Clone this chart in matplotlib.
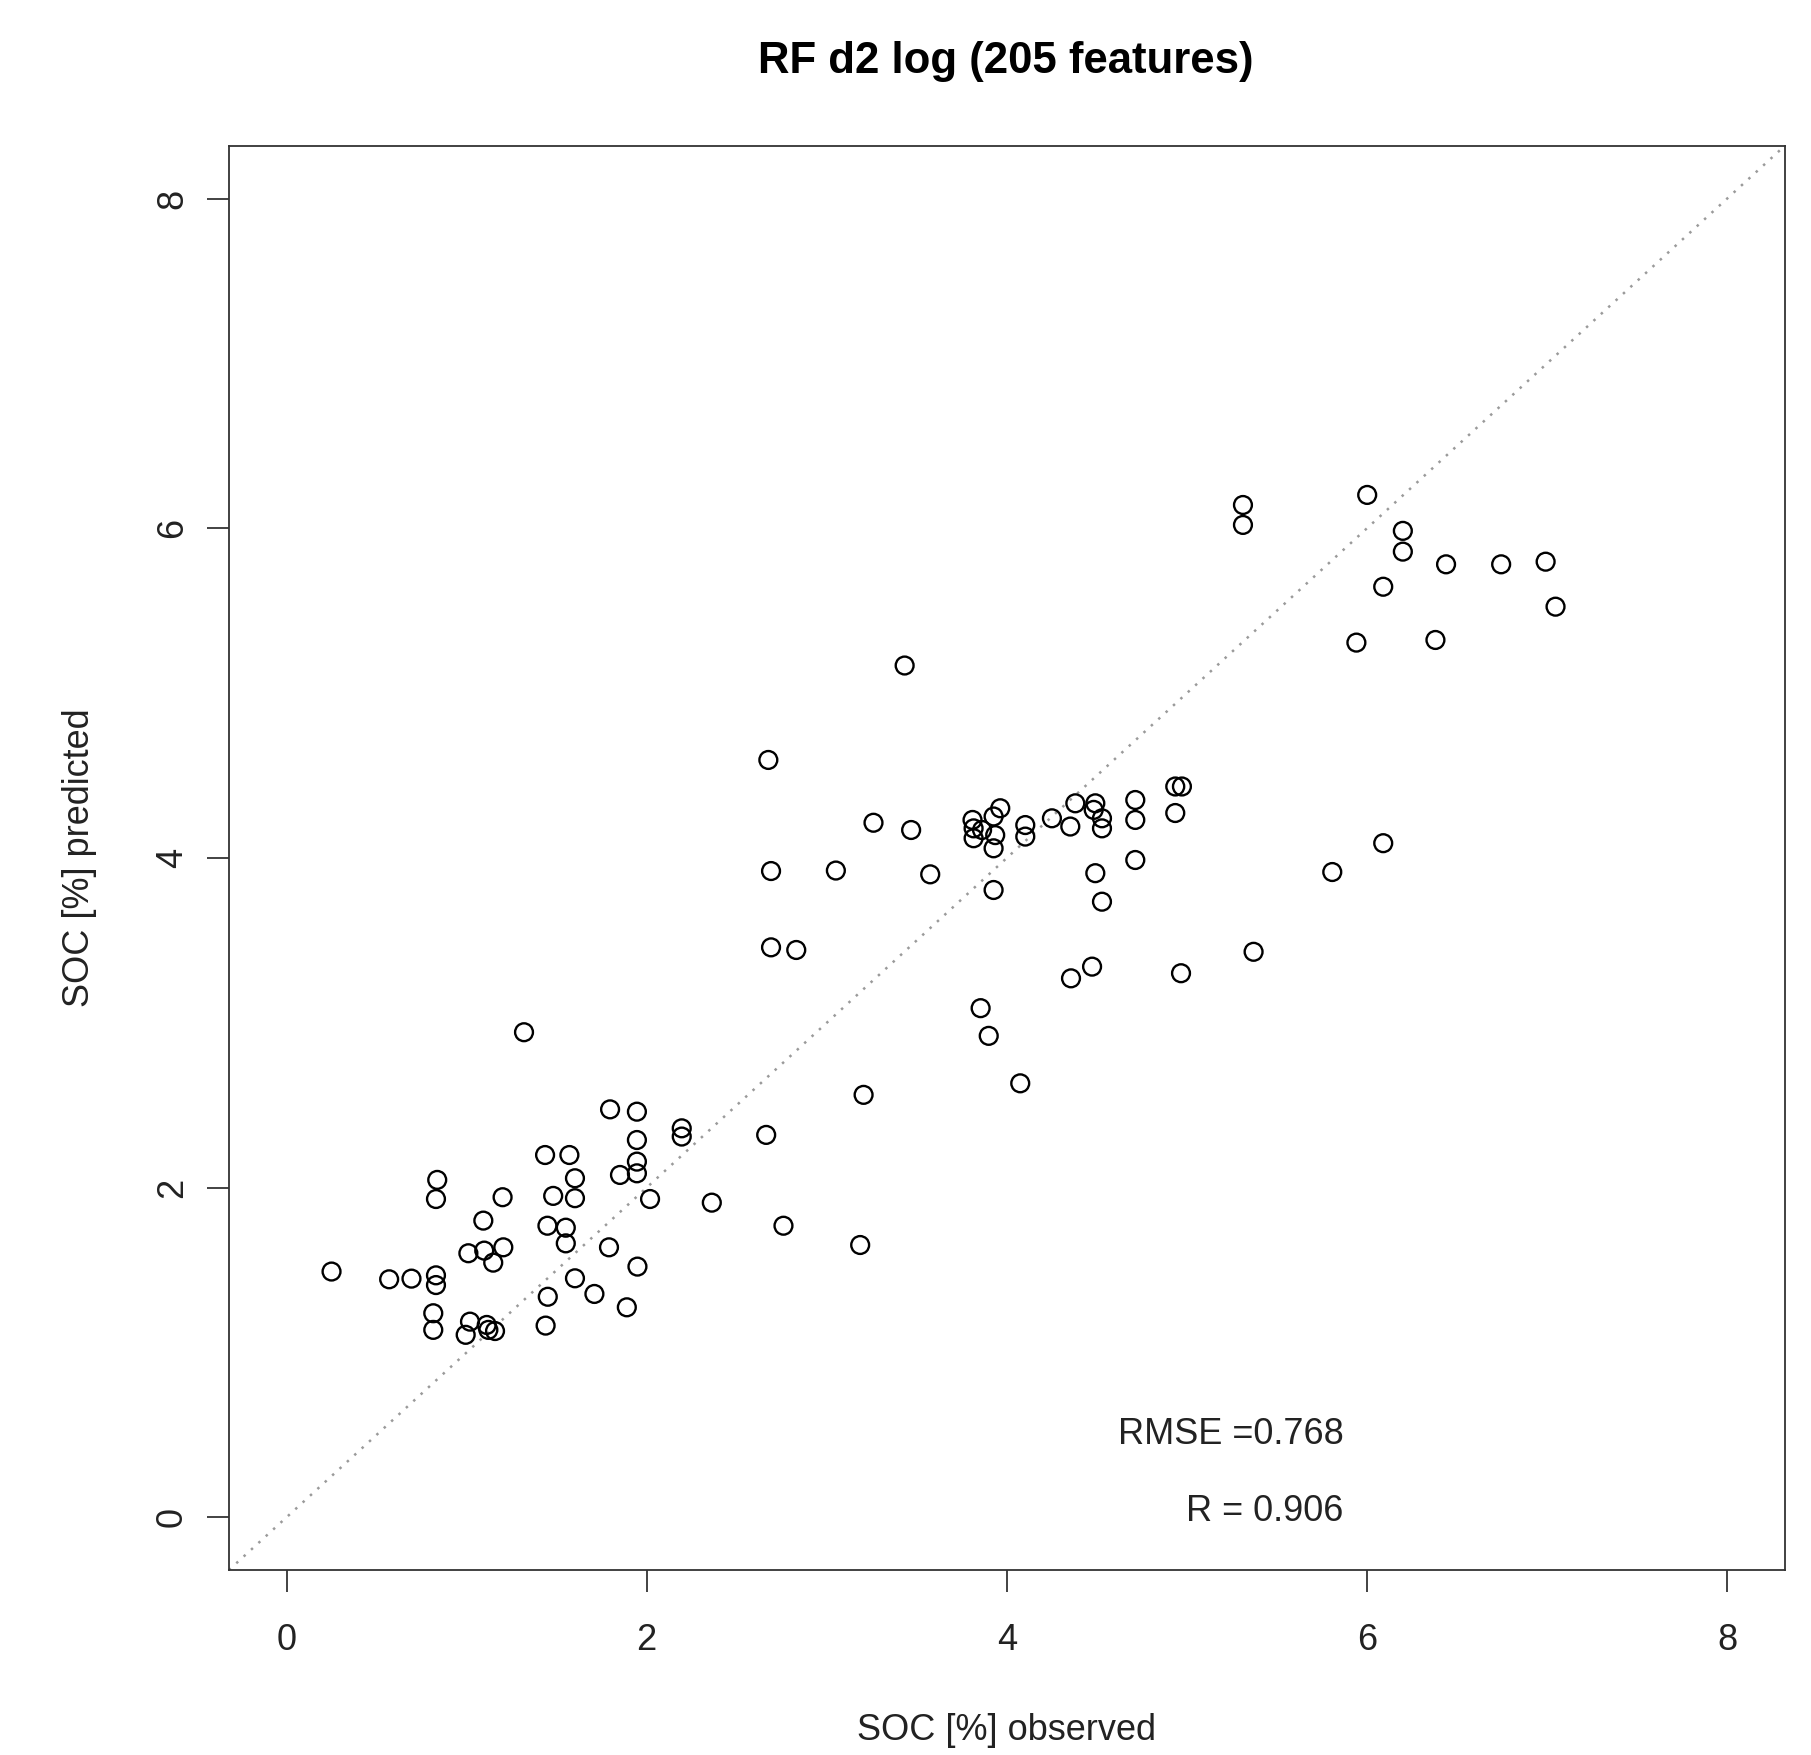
import matplotlib
matplotlib.use("Agg")
import matplotlib.pyplot as plt

plt.rcParams['font.family'] = ['Liberation Sans', 'DejaVu Sans']

title = "RF d2 log (205 features)"
xlabel = "SOC [%] observed"
ylabel = "SOC [%] predicted"
ticks = [0, 2, 4, 6, 8]
rmse_text = "RMSE =0.768"
r_text = "R = 0.906"

observed = [
    1.319, 1.797, 1.946, 2.195, 2.195, 1.946, 1.436, 1.571, 1.946, 1.946,
    1.852, 0.837, 0.830, 1.602, 1.200, 1.481, 1.602, 2.019, 2.362, 1.093,
    1.449, 1.551, 1.551, 1.791, 1.010, 1.098, 1.204, 1.148, 1.949, 0.250,
    0.570, 0.694, 0.830, 0.830, 1.602, 1.710, 1.451, 1.890, 0.815, 0.815,
    1.019, 0.995, 1.112, 1.121, 1.158, 1.439,
    4.075, 3.205, 2.664, 2.760, 3.186,
    3.810, 3.816, 3.816, 3.863, 3.927, 3.964, 3.936, 3.927, 4.103, 4.103,
    4.251, 4.353, 4.381, 4.492, 4.483, 4.529, 4.529, 4.714, 4.714, 4.936,
    4.973, 4.936, 4.714, 4.492, 4.529, 3.927,
    2.676, 3.260, 3.469, 2.691, 3.051, 3.575, 2.691, 2.831, 4.357, 4.474,
    4.968,
    3.433, 3.855, 3.900, 5.371, 5.808, 6.091,
    5.312, 5.312, 6.002, 6.200, 6.200, 6.440, 6.746, 6.993, 7.048, 6.091,
    5.942, 6.381,
]

predicted = [
    2.943, 2.475, 2.461, 2.360, 2.310, 2.289, 2.198, 2.198, 2.158, 2.087,
    2.077, 2.047, 1.931, 2.057, 1.942, 1.950, 1.936, 1.931, 1.909, 1.800,
    1.769, 1.757, 1.662, 1.638, 1.602, 1.618, 1.638, 1.545, 1.521, 1.491,
    1.444, 1.448, 1.468, 1.409, 1.450, 1.355, 1.338, 1.274, 1.238, 1.137,
    1.187, 1.107, 1.167, 1.137, 1.130, 1.163,
    2.633, 2.563, 2.320, 1.769, 1.652,
    4.231, 4.180, 4.120, 4.170, 4.252, 4.302, 4.139, 4.059, 4.200, 4.130,
    4.241, 4.191, 4.332, 4.332, 4.292, 4.241, 4.180, 4.352, 4.231, 4.434,
    4.434, 4.273, 3.988, 3.908, 3.735, 3.806,
    4.595, 4.214, 4.170, 3.921, 3.924, 3.901, 3.458, 3.442, 3.270, 3.341,
    3.301,
    5.168, 3.089, 2.921, 3.431, 3.915, 4.090,
    6.142, 6.021, 6.203, 5.985, 5.859, 5.782, 5.782, 5.798, 5.525, 5.646,
    5.307, 5.323,
]

fig = plt.figure(figsize=(18.11, 17.55), dpi=100)
ax = fig.add_axes([0.1264, 0.1054, 0.8590, 0.8114])

lim = (-0.32, 8.32)
ax.set_xlim(lim)
ax.set_ylim(lim)

ax.plot(lim, lim, color='#9a9a9a', linestyle=(0, (1, 3)), linewidth=1.8, zorder=1)
ax.scatter(observed, predicted, s=165, facecolors='none', edgecolors='black',
           linewidths=1.7, zorder=2)

ax.set_xticks(ticks)
ax.set_yticks(ticks)
ax.set_xticklabels([str(t) for t in ticks])
ax.set_yticklabels([str(t) for t in ticks], rotation=90, va='center')
ax.tick_params(axis='both', direction='out', length=16, width=1.2,
               labelsize=26, colors='#222222')
ax.tick_params(axis='x', pad=22)
ax.tick_params(axis='y', pad=12)
for sp in ax.spines.values():
    sp.set_linewidth(1.3)
    sp.set_color('#333333')

ax.set_xlabel(xlabel, fontsize=26, labelpad=40, color='#222222')
ax.set_ylabel(ylabel, fontsize=26, labelpad=42, color='#222222')
fig.text(0.5555, 1 - 62 / 1755, title, fontsize=31.5, fontweight='bold',
         ha='center', va='center')

ax.text(5.87, 0.50, rmse_text, fontsize=26, ha='right', va='center', color='#222222')
ax.text(5.87, 0.035, r_text, fontsize=26, ha='right', va='center', color='#222222')

fig.savefig("out.png", dpi=100)
